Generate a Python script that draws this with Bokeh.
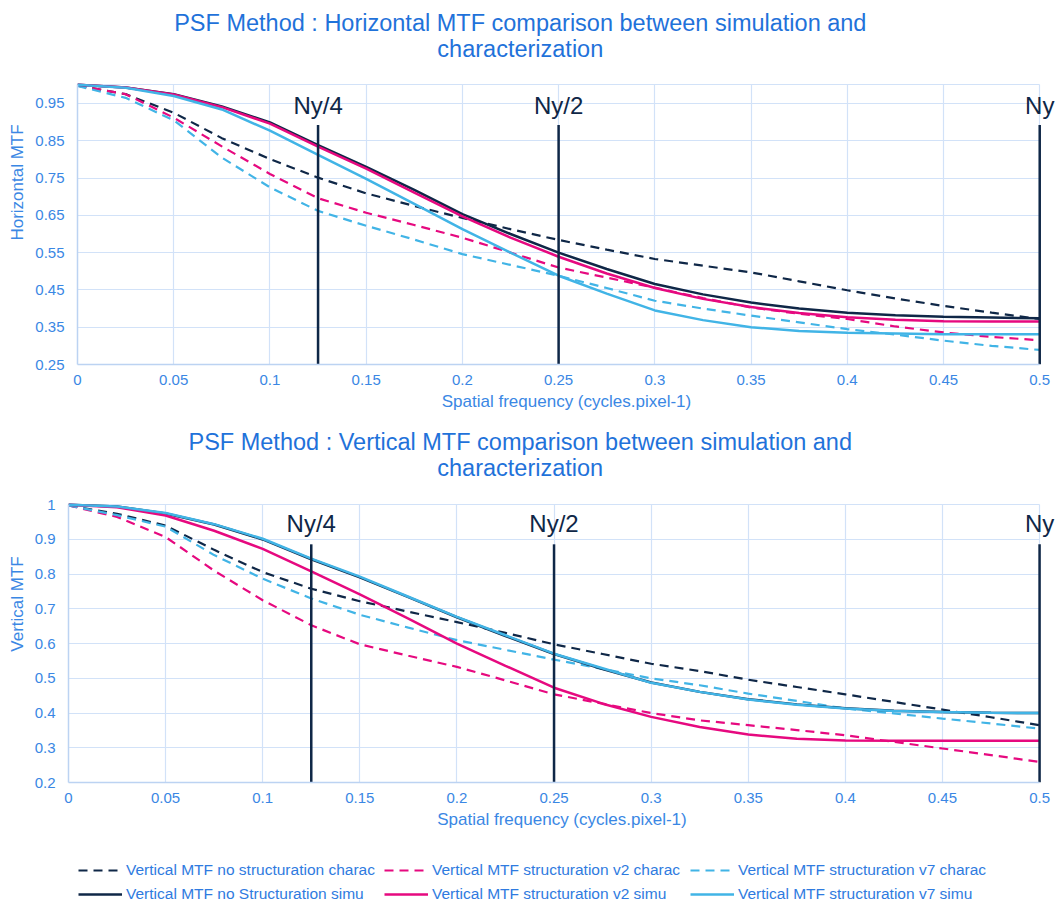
from bokeh.plotting import figure
from bokeh.models import Label, Legend, LegendItem, Range1d, FixedTicker
from bokeh.embed import file_html
from bokeh.resources import INLINE

# ---------------- data ----------------
freq = [0, 0.025, 0.05, 0.075, 0.1, 0.125, 0.15, 0.175, 0.2, 0.225, 0.25,
        0.275, 0.3, 0.325, 0.35, 0.375, 0.4, 0.425, 0.45, 0.475, 0.5]

# Horizontal MTF (top chart)
h_nostruct_charac = [0.998, 0.975, 0.925, 0.857, 0.801, 0.751, 0.709, 0.675, 0.643, 0.613, 0.584,
                     0.558, 0.533, 0.515, 0.497, 0.473, 0.449, 0.427, 0.407, 0.389, 0.372]
h_v2_charac = [0.998, 0.975, 0.912, 0.835, 0.761, 0.696, 0.657, 0.624, 0.590, 0.550, 0.510,
               0.483, 0.456, 0.428, 0.403, 0.386, 0.372, 0.352, 0.336, 0.324, 0.315]
h_v7_charac = [0.997, 0.965, 0.905, 0.805, 0.725, 0.662, 0.622, 0.585, 0.546, 0.517, 0.488,
               0.455, 0.421, 0.400, 0.381, 0.363, 0.345, 0.330, 0.314, 0.300, 0.289]
h_nostruct_simu = [1.0, 0.993, 0.975, 0.942, 0.899, 0.838, 0.780, 0.718, 0.653, 0.600, 0.550,
                   0.506, 0.466, 0.438, 0.416, 0.400, 0.389, 0.382, 0.378, 0.376, 0.374]
h_v2_simu = [1.0, 0.993, 0.974, 0.940, 0.896, 0.834, 0.775, 0.711, 0.647, 0.590, 0.539,
             0.494, 0.455, 0.426, 0.404, 0.388, 0.377, 0.370, 0.366, 0.365, 0.365]
h_v7_simu = [1.0, 0.992, 0.970, 0.934, 0.877, 0.812, 0.748, 0.681, 0.613, 0.550, 0.488,
             0.440, 0.395, 0.369, 0.350, 0.340, 0.335, 0.333, 0.331, 0.331, 0.331]

# Vertical MTF (bottom chart)
v_nostruct_charac = [0.998, 0.974, 0.940, 0.870, 0.806, 0.758, 0.722, 0.692, 0.662, 0.631, 0.598,
                     0.570, 0.542, 0.521, 0.496, 0.475, 0.454, 0.432, 0.410, 0.388, 0.365]
v_v2_charac = [0.998, 0.965, 0.907, 0.810, 0.725, 0.653, 0.598, 0.565, 0.533, 0.494, 0.454,
               0.427, 0.400, 0.379, 0.365, 0.351, 0.336, 0.317, 0.298, 0.279, 0.259]
v_v7_charac = [0.998, 0.970, 0.937, 0.855, 0.787, 0.730, 0.683, 0.646, 0.610, 0.582, 0.554,
               0.527, 0.500, 0.480, 0.456, 0.435, 0.413, 0.399, 0.384, 0.370, 0.355]
v_nostruct_simu = [1.0, 0.995, 0.975, 0.943, 0.900, 0.843, 0.791, 0.734, 0.676, 0.622, 0.570,
                   0.527, 0.488, 0.461, 0.440, 0.425, 0.414, 0.407, 0.403, 0.401, 0.400]
v_v2_simu = [1.0, 0.993, 0.969, 0.925, 0.873, 0.808, 0.742, 0.672, 0.600, 0.536, 0.473,
             0.427, 0.389, 0.360, 0.338, 0.326, 0.321, 0.320, 0.320, 0.320, 0.320]
v_v7_simu = [1.0, 0.995, 0.976, 0.944, 0.902, 0.845, 0.793, 0.735, 0.677, 0.624, 0.571,
             0.529, 0.487, 0.461, 0.439, 0.424, 0.413, 0.406, 0.403, 0.401, 0.400]

series_labels = ["Vertical MTF no structuration charac",
                 "Vertical MTF structuration v2 charac",
                 "Vertical MTF structuration v7 charac",
                 "Vertical MTF no Structuration simu",
                 "Vertical MTF structuration v2 simu",
                 "Vertical MTF structuration v7 simu"]

ny_freq = [0.125, 0.25, 0.5]
ny_labels = ["Ny/4", "Ny/2", "Ny"]

x_ticks = [0, 0.05, 0.1, 0.15, 0.2, 0.25, 0.3, 0.35, 0.4, 0.45, 0.5]
x_tick_labels = ["0", "0.05", "0.1", "0.15", "0.2", "0.25", "0.3", "0.35", "0.4", "0.45", "0.5"]
h_y_ticks = [0.25, 0.35, 0.45, 0.55, 0.65, 0.75, 0.85, 0.95]
h_y_tick_labels = ["0.25", "0.35", "0.45", "0.55", "0.65", "0.75", "0.85", "0.95"]
v_y_ticks = [0.2, 0.3, 0.4, 0.5, 0.6, 0.7, 0.8, 0.9, 1.0]
v_y_tick_labels = ["0.2", "0.3", "0.4", "0.5", "0.6", "0.7", "0.8", "0.9", "1"]

titles = [["PSF Method : Horizontal MTF comparison between simulation and", "characterization"],
          ["PSF Method : Vertical MTF comparison between simulation and", "characterization"]]

# ---------------- styles ----------------
FONT = "Liberation Sans"
NAVY = "#0f2747"
PINK = "#e6097f"
CYAN = "#41b4e6"
TITLE_COLOR = "#1f72da"
TICK_COLOR = "#3a87e4"
GRID = "#d2e2f8"
AXIS = "#bcd3f2"
X_END = 0.5082   # room right of 0.5 so the "Ny" label is not cut

colors = [NAVY, PINK, CYAN, NAVY, PINK, CYAN]
dashes = ["9 6", "9 6", "9 6", "solid", "solid", "solid"]
widths = [2.2, 2.2, 2.2, 2.5, 2.5, 2.5]


def make_fig(height, left, bottom, y0, y_top, yticks, ylabels, ylabel, title_lines,
             title_x, title_ys, ny_top, ny_label_y, series):
    # the frame reaches the top of the figure, so the title lives inside it
    p = figure(width=1057, height=height, x_range=Range1d(0, X_END),
               y_range=Range1d(y0, y_top),
               output_backend="svg", toolbar_location=None,
               min_border_left=left, min_border_right=2, min_border_top=0,
               min_border_bottom=bottom)
    p.background_fill_color = "white"
    p.border_fill_color = "white"
    p.outline_line_color = None

    p.xaxis.ticker = FixedTicker(ticks=x_ticks)
    p.xaxis.major_label_overrides = dict(zip(x_ticks, x_tick_labels))
    p.xaxis.bounds = (0, 0.5)
    p.yaxis.ticker = FixedTicker(ticks=yticks)
    p.yaxis.major_label_overrides = dict(zip(yticks, ylabels))
    p.yaxis.bounds = (y0, 1.0)
    for ax in (p.xaxis[0], p.yaxis[0]):
        ax.major_tick_line_color = None
        ax.minor_tick_line_color = None
        ax.major_tick_out = 0
        ax.major_tick_in = 0
        ax.minor_tick_out = 0
        ax.axis_line_color = AXIS
        ax.axis_line_width = 1.5
        ax.major_label_text_font = FONT
        ax.major_label_text_font_size = "15px"
        ax.major_label_text_color = TICK_COLOR
        ax.axis_label_text_font = FONT
        ax.axis_label_text_font_size = "17px"
        ax.axis_label_text_font_style = "normal"
        ax.axis_label_text_color = TICK_COLOR
    p.xaxis.axis_label = "Spatial frequency (cycles.pixel-1)"
    p.xaxis.major_label_standoff = 10
    p.xaxis.axis_label_standoff = 4
    p.yaxis.axis_label = ylabel
    p.yaxis.major_label_standoff = 13
    p.yaxis.axis_label_standoff = 5

    p.xgrid.ticker = FixedTicker(ticks=x_ticks)
    p.xgrid.cross_bounds = (y0, 1.0)
    p.ygrid.ticker = FixedTicker(ticks=yticks + [1.0])
    p.ygrid.cross_bounds = (0, 0.5)
    p.xgrid.grid_line_color = GRID
    p.ygrid.grid_line_color = GRID
    p.xgrid.grid_line_width = 1.2
    p.ygrid.grid_line_width = 1.2

    renderers = []
    for ys, c, d, w in zip(series, colors, dashes, widths):
        r = p.line(freq, ys, line_color=c, line_width=w, line_dash=d)
        renderers.append(r)

    p.segment(x0=ny_freq, x1=ny_freq, y0=[y0] * len(ny_freq), y1=[ny_top] * len(ny_freq),
              line_color=NAVY, line_width=2.5)
    for xv, lab in zip(ny_freq, ny_labels):
        p.add_layout(Label(x=xv, y=ny_label_y, text=lab, text_align="center",
                           text_baseline="alphabetic", text_font=FONT,
                           text_font_size="24px", text_color=NAVY))

    for line, ty in zip(title_lines, title_ys):
        p.add_layout(Label(x=title_x, y=ty, text=line, text_align="center",
                           text_baseline="middle", text_font=FONT,
                           text_font_size="23.5px", text_color=TITLE_COLOR))
    return p, renderers


v_series = [v_nostruct_charac, v_v2_charac, v_v7_charac,
            v_nostruct_simu, v_v2_simu, v_v7_simu]

p1, _ = make_fig(425, 77, 61, 0.25, 1.2261, h_y_ticks, h_y_tick_labels, "Horizontal MTF",
                 titles[0], 0.2301, [1.167, 1.0966], 0.892, 0.944,
                 [h_nostruct_charac, h_v2_charac, h_v7_charac,
                  h_nostruct_simu, h_v2_simu, h_v7_simu])

p2, _ = make_fig(423, 68, 66, 0.2, 1.2282, v_y_ticks, v_y_tick_labels, "Vertical MTF",
                 titles[1], 0.2326, [1.1793, 1.1045], 0.886, 0.946, v_series)

# legend strip below the second chart (its lines lie outside the strip's visible range)
p3 = figure(width=1057, height=56, x_range=Range1d(10, 11), y_range=Range1d(10, 11),
            output_backend="svg", toolbar_location=None,
            x_axis_location=None, y_axis_location=None,
            min_border_left=0, min_border_right=0, min_border_top=0, min_border_bottom=0)
p3.outline_line_color = None
p3.xgrid.visible = False
p3.ygrid.visible = False
legend_renderers = [p3.line(freq, ys, line_color=c, line_width=w, line_dash=d)
                    for ys, c, d, w in zip(v_series, colors, dashes, widths)]

legend_style = dict(orientation="horizontal", label_text_font=FONT,
                    label_text_font_size="15.5px", label_text_color="#2f7be0",
                    glyph_width=44, glyph_height=20, label_height=20, label_width=252,
                    label_standoff=4, spacing=6, padding=0, margin=0,
                    border_line_color=None, background_fill_alpha=0)
legend_rows = [(0, 3, 24), (3, 6, 0)]
for start, stop, ypos in legend_rows:
    lg = Legend(items=[LegendItem(label=series_labels[i], renderers=[legend_renderers[i]])
                       for i in range(start, stop)],
                location=(78, ypos), **legend_style)
    p3.add_layout(lg, "center")

# three separate roots, so that Bokeh does not line up their frames
open("out.html", "w").write(file_html([p1, p2, p3], INLINE))
